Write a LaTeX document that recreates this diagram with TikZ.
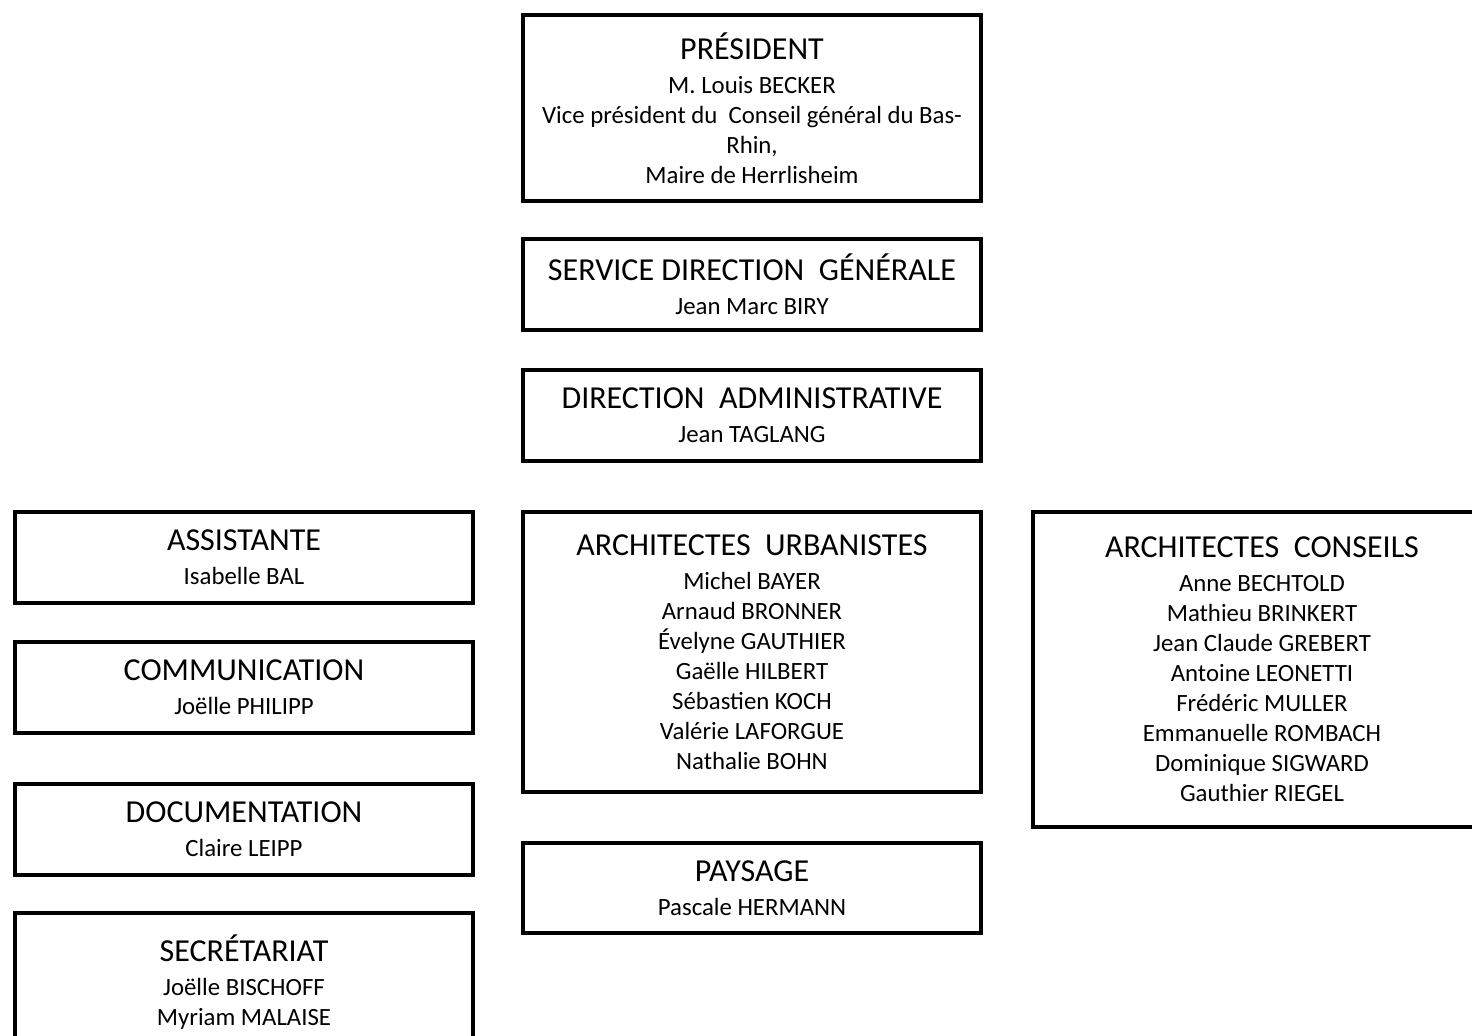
\documentclass[tikz,border=0pt]{standalone}
\usepackage{fontspec}
\setmainfont{Carlito}
\usetikzlibrary{positioning}

\newcommand{\ttl}{\fontsize{24}{27}\selectfont}

\begin{document}
\begin{tikzpicture}[orgbox/.style={draw, line width=2.8pt, align=center, minimum width=343.5pt, minimum height=68.25pt, inner sep=0pt, outer sep=0pt, font=\fontsize{18.6}{22.5}\selectfont}]
			\useasboundingbox (0,0) rectangle (1104pt,-777pt);
			\clip (0,0) rectangle (1104pt,-777pt);
			\node[orgbox, minimum height=139.5pt] (president) at (564pt,-81pt) {{\ttl PRÉSIDENT}\\[3pt] M. Louis BECKER\\ Vice président du~~Conseil général du Bas-\\ Rhin,\\ Maire de Herrlisheim};
			\node[orgbox, below=28.5pt of president] (servicedir) {{\ttl SERVICE DIRECTION~~GÉNÉRALE}\\[3pt] Jean Marc BIRY};
			\node[orgbox, below=30pt of servicedir] (diradmin) {{\ttl DIRECTION~~ADMINISTRATIVE}\\[3pt] Jean TAGLANG};
			\node[orgbox, minimum height=210pt, below=38.25pt of diradmin] (archurb) {{\ttl ARCHITECTES~~URBANISTES}\\[3pt] Michel BAYER\\ Arnaud BRONNER\\ Évelyne GAUTHIER\\ Gaëlle HILBERT\\ Sébastien KOCH\\ Valérie LAFORGUE\\ Nathalie BOHN};
			\node[orgbox, minimum height=67.5pt, below=38.25pt of archurb] (paysage) {{\ttl PAYSAGE}\\[3pt] Pascale HERMANN};
			\node[orgbox, below left=0pt and 37.5pt of archurb.north west] (assistante) {{\ttl ASSISTANTE}\\[3pt] Isabelle BAL};
			\node[orgbox, below=29.25pt of assistante] (communication) {{\ttl COMMUNICATION}\\[3pt] Joëlle PHILIPP};
			\node[orgbox, below=38.25pt of communication] (documentation) {{\ttl DOCUMENTATION}\\[3pt] Claire LEIPP};
			\node[orgbox, minimum height=103pt, below=28.5pt of documentation] (secretariat) {{\ttl SECRÉTARIAT}\\[3pt] Joëlle BISCHOFF\\ Myriam MALAISE};
			\node[orgbox, minimum height=236.25pt, below right=0pt and 39pt of archurb.north east] (archcons) {{\ttl ARCHITECTES~~CONSEILS}\\[3pt] Anne BECHTOLD\\ Mathieu BRINKERT\\ Jean Claude GREBERT\\ Antoine LEONETTI\\ Frédéric MULLER\\ Emmanuelle ROMBACH\\ Dominique SIGWARD\\ Gauthier RIEGEL};
		\end{tikzpicture}
\end{document}
